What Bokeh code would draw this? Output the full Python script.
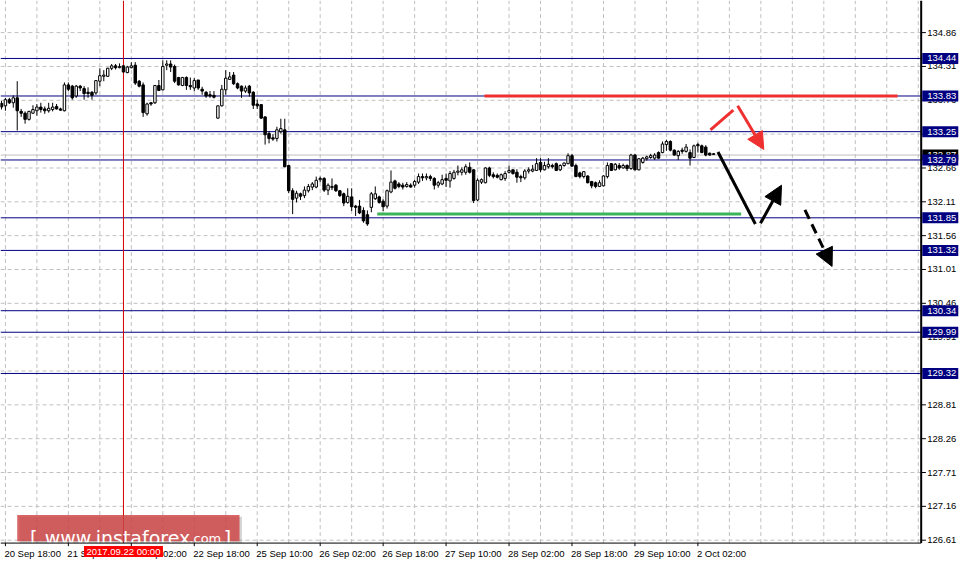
from bokeh.plotting import figure
from bokeh.models import Range1d, Arrow, NormalHead, ColumnDataSource
from bokeh.core.properties import value
from bokeh.embed import file_html
from bokeh.resources import INLINE

# ---------------- data (USDJPY H1) ----------------
bar_index = list(range(-1, 181))

opens = [133.71, 133.67, 133.77, 133.72, 133.80, 133.58, 133.55, 133.45, 133.55, 133.59,
         133.65, 133.62, 133.59, 133.61, 133.66, 133.62, 133.59, 134.01, 133.99, 133.83,
         133.99, 133.95, 133.89, 133.89, 133.88, 134.07, 134.15, 134.15, 134.28, 134.32,
         134.29, 134.32, 134.21, 134.29, 134.33, 134.07, 134.01, 133.54, 133.72, 133.72,
         134.00, 133.93, 134.33, 134.35, 134.31, 134.13, 134.00, 134.13, 134.00, 133.96,
         134.09, 133.94, 133.89, 133.85, 133.84, 133.47, 133.67, 133.93, 134.10, 134.17,
         134.03, 133.99, 133.91, 133.99, 133.89, 133.70, 133.69, 133.49, 133.22, 133.15,
         133.14, 133.25, 133.28, 132.70, 132.29, 132.17, 132.24, 132.21, 132.29, 132.35,
         132.35, 132.47, 132.49, 132.30, 132.34, 132.38, 132.29, 132.24, 132.10, 132.19,
         132.04, 132.04, 131.97, 131.90, 132.02, 132.16, 132.19, 132.12, 132.04, 132.27,
         132.45, 132.40, 132.38, 132.36, 132.38, 132.38, 132.43, 132.52, 132.50, 132.52,
         132.49, 132.38, 132.40, 132.49, 132.45, 132.49, 132.59, 132.59, 132.59, 132.67,
         132.63, 132.14, 132.43, 132.42, 132.66, 132.55, 132.54, 132.47, 132.49, 132.59,
         132.63, 132.59, 132.52, 132.50, 132.61, 132.61, 132.62, 132.75, 132.63, 132.68,
         132.70, 132.73, 132.63, 132.70, 132.73, 132.86, 132.70, 132.58, 132.52, 132.53,
         132.44, 132.42, 132.36, 132.37, 132.52, 132.73, 132.63, 132.70, 132.66, 132.70,
         132.65, 132.87, 132.63, 132.75, 132.81, 132.83, 132.82, 132.91, 132.91, 133.04,
         133.09, 132.95, 132.86, 132.95, 132.93, 132.91, 132.83, 133.04, 133.02, 133.00,
         132.90, 132.89]

highs = [133.75, 133.80, 133.80, 133.84, 134.07, 133.62, 133.58, 133.59, 133.68, 133.70,
         133.72, 133.66, 133.72, 133.72, 133.70, 133.64, 134.05, 134.05, 134.01, 134.01,
         134.01, 133.99, 133.97, 133.91, 134.09, 134.28, 134.25, 134.29, 134.35, 134.35,
         134.36, 134.33, 134.32, 134.38, 134.38, 134.09, 134.05, 133.72, 133.73, 134.01,
         134.09, 134.41, 134.41, 134.41, 134.34, 134.14, 134.14, 134.15, 134.13, 134.12,
         134.09, 133.98, 133.91, 133.91, 133.91, 133.68, 134.01, 134.25, 134.22, 134.22,
         134.05, 134.00, 134.00, 134.01, 133.91, 133.77, 133.70, 133.50, 133.26, 133.21,
         133.33, 133.46, 133.46, 132.71, 132.33, 132.29, 132.26, 132.36, 132.40, 132.43,
         132.52, 132.52, 132.51, 132.41, 132.49, 132.40, 132.30, 132.26, 132.33, 132.33,
         132.06, 132.14, 132.02, 131.97, 132.27, 132.36, 132.21, 132.15, 132.31, 132.62,
         132.47, 132.43, 132.42, 132.43, 132.41, 132.47, 132.57, 132.57, 132.57, 132.55,
         132.51, 132.45, 132.55, 132.57, 132.61, 132.63, 132.70, 132.67, 132.72, 132.75,
         132.64, 132.49, 132.49, 132.67, 132.68, 132.59, 132.57, 132.57, 132.61, 132.70,
         132.64, 132.64, 132.55, 132.64, 132.67, 132.71, 132.82, 132.82, 132.76, 132.82,
         132.73, 132.75, 132.72, 132.75, 132.90, 132.89, 132.73, 132.60, 132.61, 132.54,
         132.45, 132.44, 132.46, 132.54, 132.75, 132.74, 132.74, 132.74, 132.73, 132.72,
         132.89, 132.89, 132.82, 132.84, 132.86, 132.89, 132.90, 132.93, 133.09, 133.12,
         133.11, 132.96, 132.95, 132.99, 133.05, 132.96, 133.04, 133.07, 133.04, 133.03,
         132.91, 132.90]

lows = [133.61, 133.59, 133.70, 133.64, 133.27, 133.49, 133.38, 133.43, 133.54, 133.51,
        133.56, 133.54, 133.56, 133.58, 133.61, 133.59, 133.58, 133.91, 133.77, 133.80,
        133.91, 133.77, 133.80, 133.77, 133.85, 133.99, 134.07, 134.14, 134.25, 134.26,
        134.28, 134.21, 134.20, 134.28, 134.01, 133.97, 133.49, 133.51, 133.67, 133.70,
        133.91, 133.92, 134.25, 134.22, 134.04, 134.00, 133.99, 133.93, 133.93, 133.91,
        133.93, 133.85, 133.80, 133.80, 133.79, 133.46, 133.66, 133.85, 134.09, 134.01,
        133.94, 133.80, 133.88, 133.82, 133.62, 133.62, 133.46, 133.04, 133.06, 133.10,
        133.09, 133.22, 132.67, 132.25, 131.91, 132.10, 132.14, 132.17, 132.26, 132.30,
        132.33, 132.43, 132.27, 132.22, 132.30, 132.27, 132.19, 132.04, 132.08, 131.96,
        131.88, 131.91, 131.77, 131.72, 131.94, 132.14, 132.08, 131.96, 132.00, 132.25,
        132.31, 132.33, 132.31, 132.34, 132.34, 132.34, 132.40, 132.45, 132.46, 132.45,
        132.31, 132.34, 132.38, 132.35, 132.34, 132.47, 132.54, 132.54, 132.55, 132.57,
        132.09, 132.12, 132.40, 132.41, 132.51, 132.49, 132.49, 132.46, 132.45, 132.57,
        132.55, 132.42, 132.43, 132.47, 132.57, 132.59, 132.61, 132.59, 132.62, 132.65,
        132.65, 132.61, 132.61, 132.68, 132.72, 132.68, 132.51, 132.49, 132.49, 132.41,
        132.33, 132.33, 132.35, 132.36, 132.49, 132.61, 132.62, 132.63, 132.65, 132.61,
        132.63, 132.62, 132.62, 132.73, 132.78, 132.81, 132.79, 132.81, 132.90, 132.94,
        132.93, 132.86, 132.79, 132.89, 132.91, 132.70, 132.82, 132.91, 132.90, 132.85,
        132.86, 132.87]

closes = [133.65, 133.77, 133.72, 133.80, 133.59, 133.55, 133.45, 133.58, 133.61, 133.65,
          133.61, 133.59, 133.63, 133.65, 133.62, 133.60, 134.01, 133.94, 133.80, 133.99,
          133.96, 133.87, 133.87, 133.84, 134.08, 134.16, 134.17, 134.28, 134.32, 134.29,
          134.31, 134.22, 134.30, 134.32, 134.04, 133.99, 133.56, 133.70, 133.70, 134.00,
          133.92, 134.31, 134.35, 134.30, 134.07, 134.01, 134.13, 134.00, 133.98, 134.08,
          133.96, 133.91, 133.83, 133.83, 133.81, 133.67, 133.94, 134.12, 134.14, 134.03,
          133.96, 133.91, 133.96, 133.88, 133.68, 133.67, 133.47, 133.20, 133.14, 133.13,
          133.28, 133.30, 132.68, 132.29, 132.15, 132.25, 132.20, 132.30, 132.36, 132.40,
          132.46, 132.49, 132.30, 132.38, 132.36, 132.29, 132.21, 132.09, 132.20, 132.03,
          132.02, 131.93, 131.80, 131.75, 132.24, 132.24, 132.10, 132.03, 132.29, 132.43,
          132.33, 132.36, 132.35, 132.39, 132.35, 132.44, 132.52, 132.50, 132.52, 132.49,
          132.38, 132.42, 132.47, 132.46, 132.57, 132.59, 132.61, 132.63, 132.68, 132.59,
          132.13, 132.46, 132.47, 132.66, 132.54, 132.52, 132.51, 132.55, 132.57, 132.62,
          132.57, 132.51, 132.50, 132.61, 132.63, 132.64, 132.73, 132.63, 132.70, 132.72,
          132.68, 132.62, 132.70, 132.74, 132.86, 132.69, 132.52, 132.52, 132.60, 132.42,
          132.37, 132.36, 132.42, 132.53, 132.70, 132.62, 132.72, 132.66, 132.70, 132.65,
          132.87, 132.63, 132.81, 132.82, 132.84, 132.86, 132.87, 132.82, 133.05, 133.09,
          132.95, 132.87, 132.93, 132.93, 133.00, 132.82, 133.02, 133.02, 132.91, 132.87,
          132.87, 132.88]

# price scale ticks (right axis) and time ticks (bottom axis)
price_ticks = [126.61, 127.16, 127.71, 128.26, 128.81, 129.36, 129.91, 130.46,
               131.01, 131.56, 132.11, 132.66, 133.21, 133.76, 134.31, 134.86]
time_ticks = [0, 16, 32, 48, 64, 80, 96, 112, 128, 144, 160, 176]
time_labels = ["20 Sep 18:00", "21 Sep 10:00", "22 Sep 02:00", "22 Sep 18:00",
               "25 Sep 10:00", "26 Sep 02:00", "26 Sep 18:00", "27 Sep 10:00",
               "28 Sep 02:00", "28 Sep 18:00", "29 Sep 10:00", "2 Oct 02:00"]
time_grid = [0, 8, 16, 24, 32, 40, 48, 56, 64, 72, 80, 88, 96, 104, 112, 120, 128,
             136, 144, 152, 160, 168, 176, 184, 192, 200, 208, 216, 224, 232]

# support / resistance levels
levels = [134.44, 133.83, 133.25, 132.79, 131.85, 131.32, 130.34, 129.99, 129.32]
bid_price = 132.87
crosshair_bar = 30
crosshair_text = "2017.09.22 00:00"

# analyst drawings (bar index, price)
resist_x = [121.75, 226.75]
resist_y = [133.83, 133.83]
support_x = [94.5, 187.0]
support_y = [131.91, 131.91]
red_path_x = [179.2, 185.0]
red_path_y = [133.28, 133.60]
red_arrow = (186.1, 133.67, 192.75, 132.96)
black_path_x = [181.1, 190.6]
black_path_y = [132.92, 131.75]
black_arrow = (191.9, 131.76, 197.25, 132.38)
dashed_arrow = (203.2, 131.98, 210.1, 131.06)

# chart window (bar index / price) and price-scale / time-scale strips
chart_left, chart_right = -1.25, 232.75
chart_bottom, chart_top = 126.563, 135.382
view_x = (-1.25, 243.25)
view_y = (126.215, 135.382)
box_center_x = chart_right + 4.85
date_box_y = 126.425
tick_len_x = 1.2
tick_len_y = 0.05

# watermark
wm_box = dict(left=3.0, right=59.5, top=127.021, bottom=126.594)
wm_text = ["[", "www.instaforex", ".com", "]"]
wm_x = [6.25, 10.0, 46.75, 55.5]
wm_y = [126.642, 126.642, 126.642, 126.642]
wm_size = ["19px", "19px", "13px", "19px"]

# ---------------- figure ----------------
FONT = value("Liberation Sans")
NAVY = "#000080"
RED = "#ee3030"
GRID = "#c0c0c0"
AXIS_FS = "9.5px"

p = figure(width=962, height=564, output_backend="svg", toolbar_location=None,
           x_range=Range1d(*view_x), y_range=Range1d(*view_y),
           x_axis_type=None, y_axis_type=None,
           min_border_left=0, min_border_top=0, min_border_right=0, min_border_bottom=0)
p.outline_line_color = None
p.background_fill_color = "white"
p.border_fill_color = "white"

# dashed grid inside the chart window
p.segment(x0=time_grid, y0=[chart_bottom] * len(time_grid),
          x1=time_grid, y1=[chart_top] * len(time_grid),
          line_color=GRID, line_width=1, line_dash="4 3")
p.segment(x0=[chart_left] * len(price_ticks), y0=price_ticks,
          x1=[chart_right] * len(price_ticks), y1=price_ticks,
          line_color=GRID, line_width=1, line_dash="4 3")

# level lines, bid line, crosshair
p.segment(x0=[chart_left] * len(levels), y0=levels, x1=[chart_right] * len(levels), y1=levels,
          line_color=NAVY, line_width=1)
p.segment(x0=[chart_left], y0=[bid_price], x1=[chart_right], y1=[bid_price],
          line_color=GRID, line_width=1)
p.segment(x0=[crosshair_bar], y0=[chart_bottom], x1=[crosshair_bar], y1=[chart_top],
          line_color="#d40000", line_width=1)

# candles
top = [max(o, c) for o, c in zip(opens, closes)]
bottom = [min(o, c) for o, c in zip(opens, closes)]
fill = ["white" if c >= o else "black" for o, c in zip(opens, closes)]
src = ColumnDataSource(dict(x=bar_index, high=highs, low=lows, top=top, bottom=bottom, fill=fill))
p.segment(x0="x", y0="low", x1="x", y1="high", source=src, line_color="black", line_width=1)
p.vbar(x="x", width=0.62, top="top", bottom="bottom", fill_color="fill",
       line_color="black", line_width=1, source=src)

# analyst drawings
p.line(resist_x, resist_y, line_color=RED, line_width=3)
p.line(support_x, support_y, line_color="#3cb45a", line_width=3)
p.line(red_path_x, red_path_y, line_color=RED, line_width=3)
p.add_layout(Arrow(end=NormalHead(size=17, fill_color=RED, line_color=RED),
                   x_start=red_arrow[0], y_start=red_arrow[1],
                   x_end=red_arrow[2], y_end=red_arrow[3],
                   line_color=RED, line_width=3))
p.line(black_path_x, black_path_y, line_color="black", line_width=3)
p.add_layout(Arrow(end=NormalHead(size=18, fill_color="black", line_color="black"),
                   x_start=black_arrow[0], y_start=black_arrow[1],
                   x_end=black_arrow[2], y_end=black_arrow[3],
                   line_color="black", line_width=3))
p.add_layout(Arrow(end=NormalHead(size=18, fill_color="black", line_color="black"),
                   x_start=dashed_arrow[0], y_start=dashed_arrow[1],
                   x_end=dashed_arrow[2], y_end=dashed_arrow[3],
                   line_color="black", line_width=3, line_dash="10 6"))

# watermark
p.quad(left=wm_box["left"] + 0.6, right=wm_box["right"] + 0.6,
       top=wm_box["top"] - 0.03, bottom=wm_box["bottom"] - 0.03,
       fill_color="#808080", fill_alpha=0.35, line_color=None)
p.quad(left=wm_box["left"], right=wm_box["right"], top=wm_box["top"], bottom=wm_box["bottom"],
       fill_color="#d04040", fill_alpha=0.8, line_color=None)
wm_src = ColumnDataSource(dict(x=wm_x, y=wm_y, text=wm_text, size=wm_size))
p.text(x="x", y="y", text="text", source=wm_src, text_font=value("DejaVu Sans"),
       text_font_size="size", text_color="white", text_align="left",
       text_baseline="alphabetic")

# axis lines
p.segment(x0=[chart_right], y0=[chart_bottom], x1=[chart_right], y1=[chart_top],
          line_color="black", line_width=2)
p.segment(x0=[chart_left], y0=[chart_bottom], x1=[chart_right], y1=[chart_bottom],
          line_color="black", line_width=1)

# price scale: ticks + labels
p.segment(x0=[chart_right] * len(price_ticks), y0=price_ticks,
          x1=[chart_right + tick_len_x] * len(price_ticks), y1=price_ticks,
          line_color="black", line_width=1)
p.text(x=[chart_right] * len(price_ticks), y=price_ticks,
       text=[f"{v:.2f}" for v in price_ticks], x_offset=6,
       text_font=FONT, text_font_size=AXIS_FS, text_color="black",
       text_align="left", text_baseline="middle")

# time scale: ticks + labels
p.segment(x0=time_ticks, y0=[chart_bottom] * len(time_ticks),
          x1=time_ticks, y1=[chart_bottom - tick_len_y] * len(time_ticks),
          line_color="black", line_width=1)
p.text(x=time_ticks, y=[chart_bottom] * len(time_ticks), text=time_labels,
       x_offset=-1, y_offset=5, text_font=FONT, text_font_size=AXIS_FS,
       text_color="black", text_align="left", text_baseline="top")

# price boxes (bid behind, then levels)
p.rect(x=[box_center_x], y=[bid_price], width=36, height=11,
       width_units="screen", height_units="screen", fill_color="black", line_color=None)
p.text(x=[chart_right], y=[bid_price], text=[f"{bid_price:.2f}"], x_offset=6,
       text_font=FONT, text_font_size=AXIS_FS, text_color="white",
       text_align="left", text_baseline="middle")
p.rect(x=[box_center_x] * len(levels), y=levels, width=36, height=11,
       width_units="screen", height_units="screen", fill_color=NAVY, line_color=None)
p.text(x=[chart_right] * len(levels), y=levels, text=[f"{v:.2f}" for v in levels],
       x_offset=6, text_font=FONT, text_font_size=AXIS_FS, text_color="white",
       text_align="left", text_baseline="middle")

# crosshair date box
p.rect(x=[crosshair_bar], y=[date_box_y], width=79, height=11,
       width_units="screen", height_units="screen", fill_color="#ff0000", line_color=None)
p.text(x=[crosshair_bar], y=[date_box_y], text=[crosshair_text],
       text_font=FONT, text_font_size=AXIS_FS, text_color="white",
       text_align="center", text_baseline="middle")

open("out.html", "w").write(file_html(p, INLINE))
